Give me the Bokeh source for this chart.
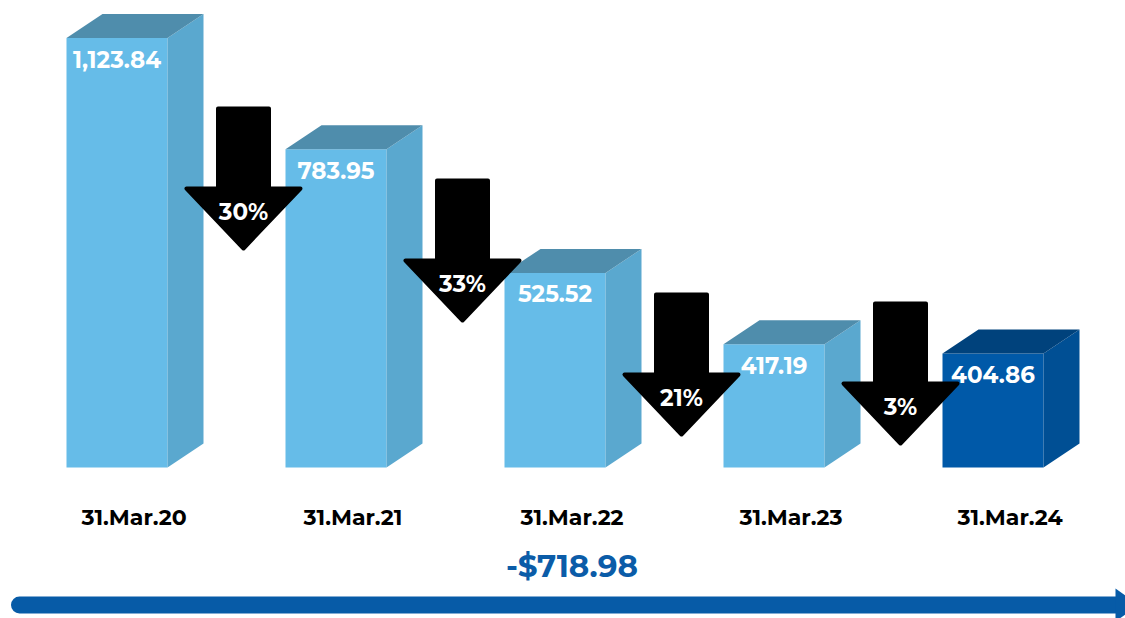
import math
from bokeh.plotting import figure
from bokeh.models import Range1d, LinearScale
from bokeh.core.properties import value
from bokeh.embed import file_html
from bokeh.resources import INLINE

# ---------------- data ----------------
dates = ["31.Mar.20", "31.Mar.21", "31.Mar.22", "31.Mar.23", "31.Mar.24"]
values = [1123.84, 783.95, 525.52, 417.19, 404.86]
value_labels = [f"{v:,.2f}" for v in values]
pct_drop = [round((a - b) / a * 100) for a, b in zip(values[:-1], values[1:])]
pct_labels = [f"{p}%" for p in pct_drop]
total_change = values[-1] - values[0]
total_label = f"-${abs(total_change):,.2f}"

# ---------------- layout / style ----------------
W, H = 1125, 618
STEP = 219.0          # px per category slot
X0 = 116.5            # px centre of first bar's front face
FRONT_W = 101 / STEP
DEPTH_X = 36 / STEP
DEPTH_Y = 24.0        # px
PX_PER_LN = 309.0
BASE = 280.0          # value at the bars' baseline
BASE_PX = 467.0
k = math.exp(DEPTH_Y / PX_PER_LN)
Y_HI = BASE * math.exp(BASE_PX / PX_PER_LN)
Y_LO = BASE * math.exp(-(H - BASE_PX) / PX_PER_LN)

FONT = value("Montserrat, Open Sans, sans-serif")
front_colors = ["#66BCE8"] * 4 + ["#0059A8"]
side_colors = ["#5AA8CF"] * 4 + ["#004F94"]
top_colors = ["#4F8DAC"] * 4 + ["#00427C"]
ARROW_TOP_PX = [106, 178, 292, 301]
BLUE = "#0B5CA8"

p = figure(width=W, height=H, output_backend="svg", toolbar_location=None,
           x_range=Range1d((0 - X0) / STEP, (W - X0) / STEP),
           y_range=Range1d(Y_LO, Y_HI), y_axis_type="log",
           x_axis_location=None, y_axis_location=None,
           min_border=0, outline_line_color=None,
           background_fill_color="white", border_fill_color="white")
p.extra_y_ranges = {"px": Range1d(H, 0)}
p.extra_y_scales = {"px": LinearScale()}
p.xgrid.visible = False
p.ygrid.visible = False

idx = list(range(len(values)))
lefts = [i - FRONT_W / 2 for i in idx]
rights = [i + FRONT_W / 2 for i in idx]

# front faces
p.quad(left=lefts, right=rights, bottom=BASE, top=values,
       fill_color=front_colors, line_color=None)
# side faces
side_xs = [[r, r + DEPTH_X, r + DEPTH_X, r] for r in rights]
side_ys = [[BASE, BASE * k, v * k, v] for v in values]
p.patches(side_xs, side_ys, fill_color=side_colors, line_color=None)
# top faces
top_xs = [[l, l + DEPTH_X, r + DEPTH_X, r] for l, r in zip(lefts, rights)]
top_ys = [[v, v * k, v * k, v] for v in values]
p.patches(top_xs, top_ys, fill_color=top_colors, line_color=None)

# value labels
p.text(x=idx, y=values, text=value_labels, y_offset=21,
       text_color="white", text_font=FONT, text_font_style="bold",
       text_font_size="23px", text_align="center", text_baseline="middle")

# category labels
p.text(x=[i + 17 / STEP for i in idx], y=[517] * len(idx), y_range_name="px",
       text=dates, text_color="black", text_font=FONT, text_font_style="bold",
       text_font_size="22px", text_align="center", text_baseline="middle")

# down arrows
sw, hw, sl, hh = 25.5 / STEP, 57 / STEP, 82, 60
axs, ays, acx = [], [], []
for i, t in enumerate(ARROW_TOP_PX):
    cx = i + 0.5 + 17 / STEP
    acx.append(cx)
    t1 = t + 2
    axs.append([cx - sw, cx + sw, cx + sw, cx + hw, cx, cx - hw, cx - sw])
    ays.append([t1, t1, t + sl, t + sl, t + sl + hh, t + sl, t + sl])
p.patches(axs, ays, y_range_name="px", fill_color="black", line_color="black",
          line_width=4, line_join="round")
p.text(x=acx, y=[t + 105 for t in ARROW_TOP_PX], y_range_name="px",
       text=pct_labels, text_color="white", text_font=FONT, text_font_style="bold",
       text_font_size="23px", text_align="center", text_baseline="middle")

# total change
p.text(x=[2 + 17 / STEP], y=[565], y_range_name="px", text=[total_label],
       text_color=BLUE, text_font=FONT, text_font_style="bold",
       text_font_size="31px", text_align="center", text_baseline="middle")

# bottom timeline arrow
p.line(x=[(19 - X0) / STEP, (1116 - X0) / STEP], y=[604.5, 604.5], y_range_name="px",
       line_color="#075BA7", line_width=17, line_cap="round")
p.patch(x=[(1115 - X0) / STEP, (1138 - X0) / STEP, (1115 - X0) / STEP],
        y=[588, 604.5, 621], y_range_name="px", fill_color="#075BA7", line_color=None)

open("out.html", "w").write(file_html(p, INLINE))
